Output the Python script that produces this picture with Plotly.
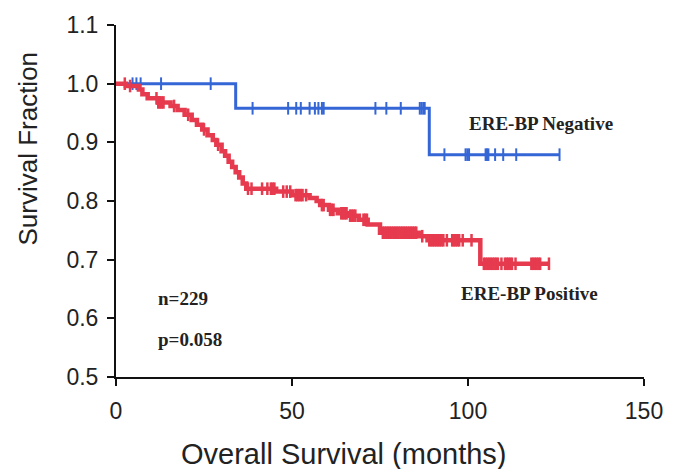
import plotly.graph_objects as go
import numpy as np

# ---- data ----
neg_times = [0, 34, 89]
neg_surv = [1.0, 0.958, 0.879]
neg_end = 126
neg_censor = [4.7, 5.8, 7, 12.8, 26.9, 38.8, 48.9, 51.2, 52.5, 55, 56.5, 57.5, 58.5, 59,
              73.7, 76.8, 80.9, 86.3, 86.8, 87.3, 87.7, 93.3, 99.3, 99.8, 100.3, 105, 105.4,
              105.8, 107.7, 110, 113.7, 126]

pos_times = [0, 2.8, 6.5, 7.5, 9, 12, 15.5, 17.5, 19.5, 21.5, 23, 24.5, 26, 27.5, 28.5, 30, 31,
             32, 33, 34, 35, 36, 37, 45.5, 50, 55, 57, 58, 60.5, 63, 66, 69, 71.5, 75, 86, 88.5, 103.5]
pos_surv = [1.0, 0.996, 0.99, 0.982, 0.975, 0.968, 0.962, 0.955, 0.947, 0.938, 0.93, 0.922, 0.912,
            0.904, 0.896, 0.885, 0.877, 0.867, 0.858, 0.849, 0.84, 0.83, 0.821, 0.816, 0.81, 0.805,
            0.8, 0.793, 0.785, 0.779, 0.775, 0.768, 0.76, 0.746, 0.74, 0.733, 0.693]
pos_end = 123
pos_censor = [2.5, 4.0, 11.5, 12.0, 12.5, 13.0, 13.5, 16.5, 20.5, 25, 29, 37.5, 38.5, 41.5, 43, 44,
              44.5, 45, 47.5, 48.5, 49.5, 51, 51.5, 52, 52.5, 53, 54, 58.5, 59, 60.8, 61.3, 61.8,
              64, 64.5, 65, 65.5, 66.5, 67, 67.5, 68, 70.3, 70.8, 71.3, 75.8, 76.3, 76.8, 77.3,
              77.8, 78.3, 78.8, 79.3, 79.8, 80.3, 80.8, 81.3, 81.8, 82.3, 82.8, 83.3, 83.8, 84.3,
              84.8, 85.3, 87, 89, 89.5, 90, 90.5, 91, 91.5, 92, 92.5, 93, 94, 95.5, 96, 96.5, 97,
              97.5, 98.5, 101, 104.5, 105, 105.5, 106, 106.5, 107, 107.5, 108, 108.5, 109.5, 110.5,
              111, 111.5, 112, 112.5, 113.5, 118, 118.5, 119, 119.5, 120, 120.5, 123]

x_ticks = [0, 50, 100, 150]
y_ticks = [0.5, 0.6, 0.7, 0.8, 0.9, 1.0, 1.1]

BLUE = "#3566d6"
RED = "#e63a4e"


def step_at(times, surv, t):
    idx = np.searchsorted(np.array(times), t, side="right") - 1
    return surv[max(idx, 0)]


fig = go.Figure()

for times, surv, end, cens, col, lw, mw in [
    (neg_times, neg_surv, neg_end, neg_censor, BLUE, 3, 2),
    (pos_times, pos_surv, pos_end, pos_censor, RED, 4.5, 2.5),
]:
    xs = list(times) + [end]
    ys = list(surv) + [surv[-1]]
    fig.add_trace(go.Scatter(x=xs, y=ys, mode="lines", line=dict(color=col, width=lw, shape="hv"),
                             showlegend=False, hoverinfo="skip", cliponaxis=False))
    fig.add_trace(go.Scatter(x=cens, y=[step_at(times, surv, t) for t in cens], mode="markers",
                             marker=dict(symbol="line-ns", size=9, line=dict(color=col, width=mw)),
                             showlegend=False, hoverinfo="skip", cliponaxis=False))

axis_common = dict(showline=True, linewidth=2, linecolor="#111", ticks="outside", ticklen=7,
                   tickwidth=2, tickcolor="#111", showgrid=False, zeroline=False,
                   tickfont=dict(family="Liberation Sans, Arial", size=23, color="#222"))

fig.update_xaxes(range=[0, 150], tickvals=x_ticks, ticklabelstandoff=5, **axis_common)
fig.update_yaxes(range=[0.5, 1.1], tickvals=y_ticks, tickformat=".1f", ticklabelstandoff=4, **axis_common)

serif = dict(family="Liberation Serif, Times New Roman", size=19, color="#222")
fig.update_layout(
    width=675, height=469,
    margin=dict(l=116, r=22, t=22, b=92),
    paper_bgcolor="white", plot_bgcolor="white",
    annotations=[
        dict(x=120.7, y=0.9327, xref="x", yref="y", text="<b>ERE-BP Negative</b>", showarrow=False,
             font=serif, xanchor="center", yanchor="middle"),
        dict(x=117.6, y=0.642, xref="x", yref="y", text="<b>ERE-BP Positive</b>", showarrow=False,
             font=serif, xanchor="center", yanchor="middle"),
        dict(x=11.5, y=0.6335, xref="x", yref="y", text="<b>n=229</b>", showarrow=False,
             font=serif, xanchor="left", yanchor="middle"),
        dict(x=11.5, y=0.564, xref="x", yref="y", text="<b>p=0.058</b>", showarrow=False,
             font=serif, xanchor="left", yanchor="middle"),
        dict(x=-0.166, y=0.65, xref="paper", yref="paper", text="Survival Fraction", showarrow=False,
             textangle=-90, font=dict(family="Liberation Sans, Arial", size=26, color="#222"),
             xanchor="center", yanchor="middle"),
        dict(x=0.431, y=-0.22, xref="paper", yref="paper", text="Overall Survival (months)",
             showarrow=False, font=dict(family="Liberation Sans, Arial", size=29, color="#222"),
             xanchor="center", yanchor="middle"),
    ],
)

fig.write_html("out.html")
